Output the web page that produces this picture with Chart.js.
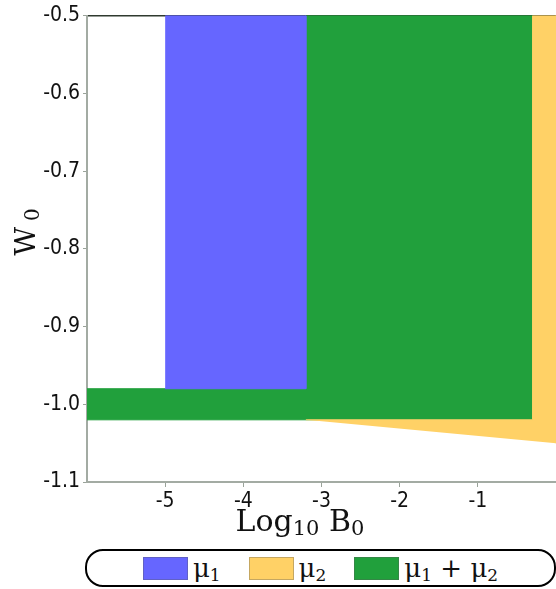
<!DOCTYPE html>
<html>
<head>
<meta charset="utf-8">
<script src="https://cdn.jsdelivr.net/npm/chart.js@4/dist/chart.umd.min.js"></script>
<style>
  html, body { margin: 0; padding: 0; background: #fff; }
  #wrap { position: relative; width: 556px; height: 589px; overflow: hidden; }
  #box { position: absolute; left: 0; top: 0; width: 556px; height: 540px; }
  #legend {
    position: absolute; left: 85px; top: 549px; width: 467px; height: 34px;
    border: 2px solid #000; border-radius: 18px;
    display: flex; align-items: center; justify-content: center;
    font-family: "DejaVu Serif", serif; font-size: 26px; color: #111;
  }
  .item { display: flex; align-items: center; margin: 0 14px; }
  .sw { width: 43px; height: 21px; border: 1px solid rgba(90,90,90,0.35); margin-right: 5px; }
  .item span { position: relative; top: 1px; }
  .item sub { font-size: 17px; vertical-align: -4px; }
</style>
</head>
<body>
<div id="wrap">
  <div id="box"><canvas id="regionChart"></canvas></div>
  <div id="legend"></div>
</div>
<script>
// axis ranges and ticks
const xMin = -6, xMax = 0;
const yMin = -1.1, yMax = -0.5;
const xTicks = [-5, -4, -3, -2, -1];
const yTicks = [-1.1, -1.0, -0.9, -0.8, -0.7, -0.6, -0.5];

// region outlines (Log10 B0, w0)
const mu1X = [-5, -3.2, -3.2, -5];
const mu1Y = [-0.5, -0.5, -0.98, -0.98];
const mu2X = [-3.2, -0.3, -0.3, 0, 0];
const mu2Y = [-1.02, -1.02, -0.5, -0.5, -1.05];
const bothX = [-6, -3.2, -3.2, -0.3, -0.3, -6];
const bothY = [-0.98, -0.98, -0.5, -0.5, -1.02, -1.02];

const regionNames = ["μ1", "μ2", "μ1 + μ2"];
const regionHtml = ["μ<sub>1</sub>", "μ<sub>2</sub>", "μ<sub>1</sub>&nbsp;+ μ<sub>2</sub>"];
const regionColors = ["#6666ff", "#ffd166", "#21a03c"];

// axis titles, [text, isSubscript]
const xTitleParts = [["Log", false], ["10", true], [" B", false], ["0", true]];
const yTitleParts = [["W", false], ["0", true]];

function pts(xs, ys) {
    return xs.map((x, i) => ({ x: x, y: ys[i] }));
}

function region(label, xs, ys, color) {
    return {
        label: label,
        data: pts(xs, ys),
        showLine: true,
        fill: "shape",
        backgroundColor: color,
        borderColor: color,
        borderWidth: 1,
        pointRadius: 0
    };
}

// draws a title made of normal and subscript pieces, centred on (0,0)
function drawParts(ctx, parts, size, gap) {
    const big = size + "px 'DejaVu Serif'";
    const small = Math.round(size * 0.7) + "px 'DejaVu Serif'";
    let total = 0;
    parts.forEach((p, i) => {
        ctx.font = p[1] ? small : big;
        total += ctx.measureText(p[0]).width + (p[1] && i > 0 ? gap : 0);
    });
    let x = -total / 2;
    ctx.textBaseline = "alphabetic";
    ctx.textAlign = "left";
    parts.forEach((p, i) => {
        ctx.font = p[1] ? small : big;
        if (p[1] && i > 0) x += gap;
        ctx.fillText(p[0], x, p[1] ? 4 : 0);
        x += ctx.measureText(p[0]).width;
    });
}

const axisTitles = {
    id: "axisTitles",
    afterDraw(chart) {
        const ctx = chart.ctx;
        ctx.save();
        ctx.fillStyle = "#111";
        ctx.translate(300, 531);
        drawParts(ctx, xTitleParts, 30, 0);
        ctx.restore();
        ctx.save();
        ctx.fillStyle = "#111";
        ctx.translate(35, 232);
        ctx.rotate(-Math.PI / 2);
        drawParts(ctx, yTitleParts, 28, 6);
        ctx.restore();
    }
};

const tickFont = { family: "'DejaVu Sans Condensed', 'DejaVu Sans'", size: 21 };

let ctx = document.getElementById("regionChart").getContext("2d");
new Chart(ctx, {
    type: "scatter",
    data: {
        datasets: [
            region(regionNames[0], mu1X, mu1Y, regionColors[0]),
            region(regionNames[1], mu2X, mu2Y, regionColors[1]),
            region(regionNames[2], bothX, bothY, regionColors[2])
        ]
    },
    options: {
        responsive: true,
        maintainAspectRatio: false,
        animation: false,
        events: [],
        layout: { padding: { top: 15, right: 0, left: 0, bottom: 0 } },
        plugins: { legend: { display: false }, tooltip: { enabled: false } },
        scales: {
            x: {
                type: "linear", position: "bottom", min: xMin, max: xMax,
                afterBuildTicks: s => { s.ticks = xTicks.map(v => ({ value: v })); },
                afterFit: s => { s.height = 58; },
                ticks: { font: tickFont, color: "#111", padding: 2, callback: v => String(v) },
                grid: { drawOnChartArea: false, tickLength: 5, color: "#9aa39a" },
                border: { color: "#a3aba3", width: 2 }
            },
            xTop: {
                type: "linear", position: "top", min: xMin, max: xMax,
                afterFit: s => { s.height = 0; },
                ticks: { display: false },
                grid: { display: false },
                border: { color: "#2f3a2f", width: 1.5 }
            },
            y: {
                type: "linear", min: yMin, max: yMax,
                afterBuildTicks: s => { s.ticks = yTicks.map(v => ({ value: v })); },
                afterFit: s => { s.width = 87; },
                ticks: { font: tickFont, color: "#111", padding: 3, callback: v => v.toFixed(1) },
                grid: { drawOnChartArea: false, tickLength: 4, color: "#9aa39a" },
                border: { color: "#a3aba3", width: 2 }
            }
        }
    },
    plugins: [axisTitles]
});

// legend built from the same names and colours
const legend = document.getElementById("legend");
regionHtml.forEach((h, i) => {
    const item = document.createElement("div");
    item.className = "item";
    item.innerHTML = '<div class="sw" style="background:' + regionColors[i] + '"></div><span>' + h + '</span>';
    legend.appendChild(item);
});
</script>
</body>
</html>
